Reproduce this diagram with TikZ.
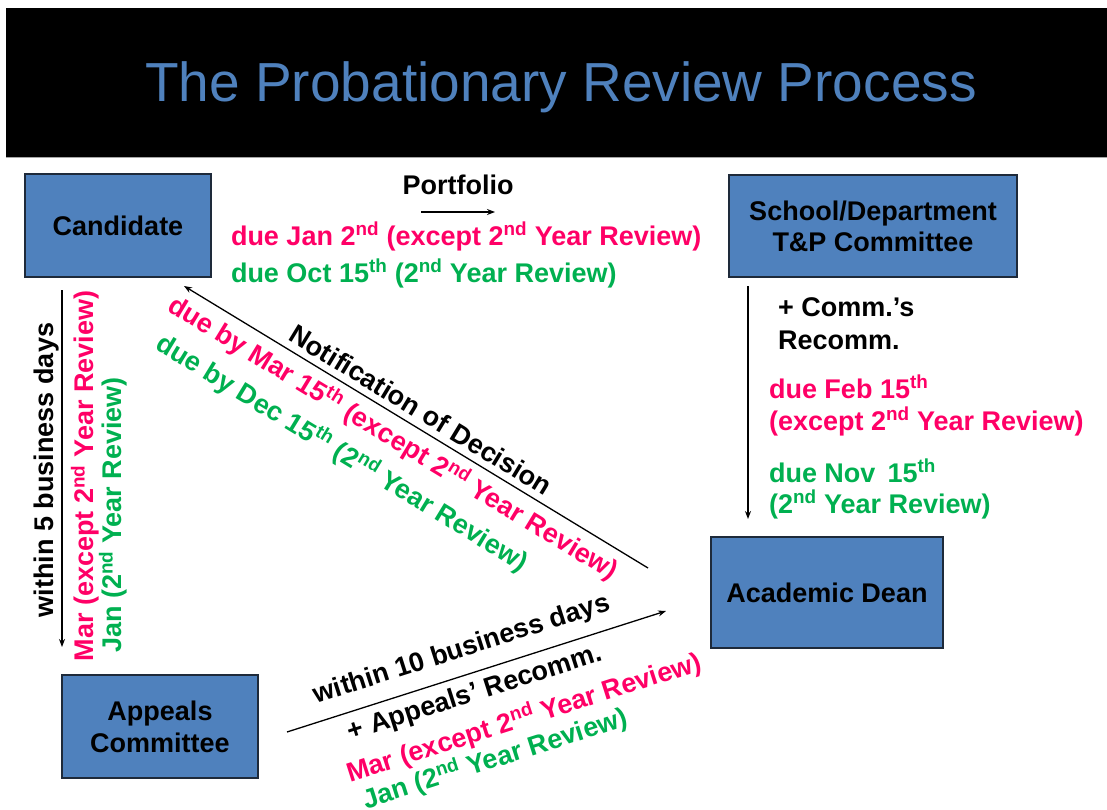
\documentclass[tikz,border=0pt]{standalone}
\usepackage{fontspec}
\setmainfont{Liberation Sans}
\usetikzlibrary{arrows.meta}
\definecolor{boxblue}{HTML}{4F81BD}
\definecolor{boxline}{HTML}{1E2A3A}
\definecolor{duered}{HTML}{FF0066}
\definecolor{duegreen}{HTML}{00B050}
\newcommand{\supx}[1]{\textsuperscript{#1}}
\begin{document}
\begin{tikzpicture}[x=1pt,y=-1pt,
  every node/.style={inner sep=0pt, outer sep=0pt, font=\fontsize{27}{31}\selectfont\bfseries},
  box/.style={draw=boxline, line width=1.8pt, fill=boxblue, align=center, text=black},
  arr/.style={-{Stealth[length=8pt,width=6pt]}, line width=1.3pt},
  redtxt/.style={text=duered},
  greentxt/.style={text=duegreen}]
\useasboundingbox (0,0) rectangle (1107,810);
% title bar
\fill[black] (6,8) rectangle (1107,157);
\draw[black!35, line width=1pt] (6,157.5) -- (1107,157.5);
\node[font=\fontsize{55}{60}\selectfont, text=boxblue, anchor=base] (title) at (561,102) {The Probationary Review Process};
% boxes
\node[box, minimum width=186pt, minimum height=103pt] (cand) at (118,225.5) {Candidate};
\node[box, minimum width=288pt, minimum height=102pt] (school) at (873,226) {School/Department\\T\&P Committee};
\node[box, minimum width=232pt, minimum height=111pt] (dean) at (827,592.5) {Academic Dean};
\node[box, minimum width=196pt, minimum height=103pt, font=\fontsize{27}{32}\selectfont\bfseries] (appeals) at (160,726.5) {Appeals\\Committee};
% portfolio arrow
\node[anchor=base] (portfolio) at (458,195) {Portfolio};
\coordinate (p1) at (421,212);
\coordinate (p2) at (495,212);
\draw[arr] (p1) -- (p2);
\node[redtxt, anchor=base west] (pr) at (231,245) {due Jan 2\supx{nd} (except 2\supx{nd} Year Review)};
\node[greentxt, anchor=base west] (pg) at (231,282) {due Oct 15\supx{th} (2\supx{nd} Year Review)};
% school -> dean
\coordinate (s1) at (748,286);
\coordinate (s2) at (748,519);
\draw[arr] (s1) -- (s2);
\node[anchor=base west] (c1) at (778,316) {+ Comm.'s};
\node[anchor=base west] (c2) at (778,349) {Recomm.};
\node[redtxt, anchor=base west] (r1) at (769,398) {due Feb 15\supx{th}};
\node[redtxt, anchor=base west] (r2) at (769,430) {(except 2\supx{nd} Year Review)};
\node[greentxt, anchor=base west] (g1) at (769,482) {due Nov\, 15\supx{th}};
\node[greentxt, anchor=base west] (g2) at (769,513) {(2\supx{nd} Year Review)};
% candidate -> appeals
\coordinate (a1) at (62,290);
\coordinate (a2) at (62,647);
\draw[arr] (a1) -- (a2);
\node[rotate=90] (w5) at (47,470) {within 5 business days};
\node[redtxt, rotate=90] (lr) at (85,476) {Mar (except 2\supx{nd} Year Review)};
\node[greentxt, rotate=90] (lg) at (113,515) {Jan (2\supx{nd} Year Review)};
% dean -> candidate (notification)
\coordinate (n1) at (648,568);
\coordinate (n2) at (184,286);
\draw[arr] (n1) -- (n2);
\node[rotate=-31.3] (nd) at (421,410) {Notification of Decision};
\node[redtxt, rotate=-31.3] (nr) at (393,438) {due by Mar 15\supx{th} (except 2\supx{nd} Year Review)};
\node[greentxt, rotate=-31.3] (ng) at (342,453) {due by Dec 15\supx{th} (2\supx{nd} Year Review)};
% appeals -> dean
\coordinate (b1) at (287,732);
\coordinate (b2) at (666,611);
\draw[arr] (b1) -- (b2);
\node[rotate=17.7] (w10) at (462,650) {within 10 business days};
\node[rotate=17.7] (ar) at (475,694) {+ Appeals' Recomm.};
\node[redtxt, rotate=17.7] (br) at (524,718) {Mar (except 2\supx{nd} Year Review)};
\node[greentxt, rotate=17.7] (bg) at (495,759) {Jan (2\supx{nd} Year Review)};
\end{tikzpicture}
\end{document}
